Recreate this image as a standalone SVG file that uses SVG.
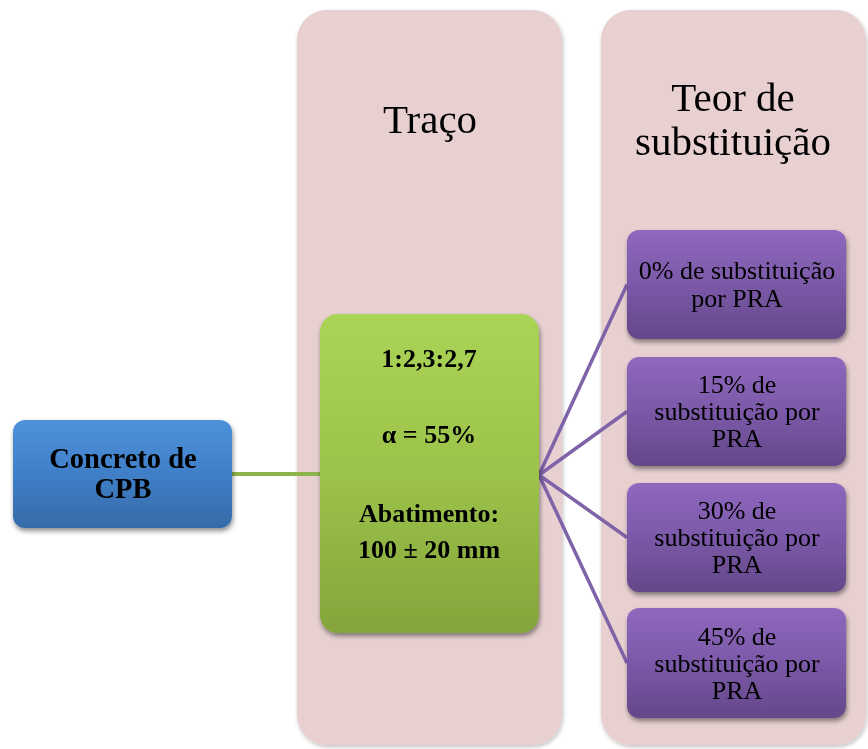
<svg xmlns="http://www.w3.org/2000/svg" width="868" height="749" viewBox="0 0 868 749">
<defs>
<linearGradient id="gBlue" x1="0" y1="0" x2="0" y2="1">
<stop offset="0" stop-color="#4E92DA"/><stop offset="0.5" stop-color="#3F7FC8"/><stop offset="1" stop-color="#366BA8"/>
</linearGradient>
<linearGradient id="gGreen" x1="0" y1="0" x2="0" y2="1">
<stop offset="0" stop-color="#AAD456"/><stop offset="0.5" stop-color="#9CC34A"/><stop offset="1" stop-color="#84A43C"/>
</linearGradient>
<linearGradient id="gPurple" x1="0" y1="0" x2="0" y2="1">
<stop offset="0" stop-color="#8F68BE"/><stop offset="0.5" stop-color="#7B59A8"/><stop offset="1" stop-color="#634889"/>
</linearGradient>
<filter id="sh" x="-10%" y="-10%" width="125%" height="130%">
<feGaussianBlur in="SourceAlpha" stdDeviation="2.5"/><feOffset dx="1" dy="3"/>
<feComponentTransfer><feFuncA type="linear" slope="0.45"/></feComponentTransfer>
<feMerge><feMergeNode/><feMergeNode in="SourceGraphic"/></feMerge>
</filter>
<filter id="shc" x="-5%" y="-5%" width="110%" height="110%">
<feGaussianBlur in="SourceAlpha" stdDeviation="2"/><feOffset dx="1" dy="2"/>
<feComponentTransfer><feFuncA type="linear" slope="0.25"/></feComponentTransfer>
<feMerge><feMergeNode/><feMergeNode in="SourceGraphic"/></feMerge>
</filter>
</defs>
<style>
.col{fill:#E8D0D1;}
.head{font-family:"Liberation Serif","Times New Roman",serif;font-size:41px;fill:#000;text-anchor:middle;}
.bt{font-family:"Liberation Serif","Times New Roman",serif;font-weight:bold;fill:#000;text-anchor:middle;}
.gt{font-family:"Liberation Serif","Times New Roman",serif;font-weight:bold;font-size:26px;fill:#000;text-anchor:middle;}
.pt{font-family:"Liberation Serif","Times New Roman",serif;font-size:26px;fill:#000;text-anchor:middle;}
.pbox{fill:url(#gPurple);}
.pl{stroke:#7F63A8;stroke-width:3.5;fill:none;}
</style>
<rect width="868" height="749" fill="#FFFFFF"/>
<g id="col-traco" filter="url(#shc)">
<rect class="col" x="297" y="10" width="265" height="735" rx="30"/>
<text class="head" x="430" y="133">Traço</text>
</g>
<g id="col-teor" filter="url(#shc)">
<rect class="col" x="601" y="10" width="265" height="735" rx="30"/>
<text class="head" x="733" y="111">Teor de</text>
<text class="head" x="733" y="155">substituição</text>
</g>
<g id="connectors">
<line x1="232" y1="474" x2="321" y2="474" stroke="#8DB44A" stroke-width="4"/>
<line class="pl" x1="539" y1="475" x2="627" y2="284.5"/>
<line class="pl" x1="539" y1="475" x2="627" y2="411.5"/>
<line class="pl" x1="539" y1="475" x2="627" y2="537.5"/>
<line class="pl" x1="539" y1="475" x2="627" y2="663"/>
</g>
<g id="concreto" filter="url(#sh)">
<rect x="13" y="420" width="219" height="108" rx="12" fill="url(#gBlue)"/>
<text class="bt" x="123" y="468" font-size="28.5">Concreto de</text>
<text class="bt" x="123" y="498" font-size="28.5">CPB</text>
</g>
<g id="traco" filter="url(#sh)">
<rect x="320" y="314" width="219" height="319" rx="18" fill="url(#gGreen)"/>
<text class="gt" x="429" y="367">1:2,3:2,7</text>
<text class="gt" x="429" y="443">α = 55%</text>
<text class="gt" x="429" y="522">Abatimento:</text>
<text class="gt" x="429" y="558">100 ± 20 mm</text>
</g>
<g id="p0" filter="url(#sh)">
<rect class="pbox" x="627" y="230" width="219" height="109" rx="12"/>
<text class="pt" x="737" y="279">0% de substituição</text>
<text class="pt" x="737" y="307">por PRA</text>
</g>
<g id="p15" filter="url(#sh)">
<rect class="pbox" x="627" y="357" width="219" height="109" rx="12"/>
<text class="pt" x="737" y="393">15% de</text>
<text class="pt" x="737" y="420">substituição por</text>
<text class="pt" x="737" y="447">PRA</text>
</g>
<g id="p30" filter="url(#sh)">
<rect class="pbox" x="627" y="483" width="219" height="109" rx="12"/>
<text class="pt" x="737" y="519">30% de</text>
<text class="pt" x="737" y="546">substituição por</text>
<text class="pt" x="737" y="573">PRA</text>
</g>
<g id="p45" filter="url(#sh)">
<rect class="pbox" x="627" y="608" width="219" height="110" rx="12"/>
<text class="pt" x="737" y="645">45% de</text>
<text class="pt" x="737" y="672">substituição por</text>
<text class="pt" x="737" y="699">PRA</text>
</g>
</svg>
